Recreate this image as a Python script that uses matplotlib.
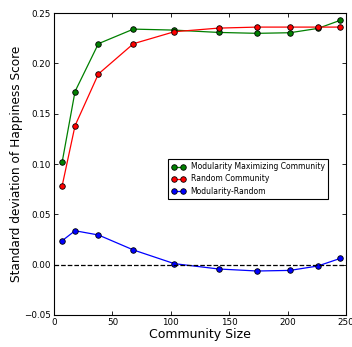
import numpy as np
import matplotlib.pyplot as plt

# community sizes and std of happiness score
sizes = [7, 18, 38, 68, 103, 141, 174, 202, 226, 245]
modularity = [0.102, 0.172, 0.2195, 0.234, 0.233, 0.2307, 0.2298, 0.2304, 0.2347, 0.2427]
random_comm = [0.0784, 0.138, 0.1894, 0.2195, 0.2314, 0.235, 0.236, 0.236, 0.236, 0.236]
diff = [0.0238, 0.0337, 0.0295, 0.0146, 0.001, -0.0043, -0.0063, -0.0057, -0.0013, 0.0062]

fig = plt.figure(figsize=(3.52, 3.47), dpi=100)
ax = fig.add_axes([54/352, 1 - 315/347, 292/352, 302/347])

ax.plot(sizes, modularity, '-o', color='green', markerfacecolor='green', markeredgecolor='black',
        markersize=4, markeredgewidth=0.6, lw=0.9, label='Modularity Maximizing Community')
ax.plot(sizes, random_comm, '-o', color='red', markerfacecolor='red', markeredgecolor='black',
        markersize=4, markeredgewidth=0.6, lw=0.9, label='Random Community')
ax.plot(sizes, diff, '-o', color='blue', markerfacecolor='blue', markeredgecolor='black',
        markersize=4, markeredgewidth=0.6, lw=0.9, label='Modularity-Random')
ax.axhline(0, color='black', ls='--', lw=0.9)

ax.set_xlim(0, 250)
ax.set_ylim(-0.05, 0.25)
ax.set_xticks(np.arange(0, 251, 50))
ax.set_yticks(np.arange(-0.05, 0.251, 0.05))
ax.set_yticklabels(['\u22120.05', '0.00', '0.05', '0.10', '0.15', '0.20', '0.25'])
ax.tick_params(direction='in', top=True, right=True, labelsize=6.3, length=3, width=0.6, pad=2)
for s in ax.spines.values():
    s.set_linewidth(0.8)

ax.set_xlabel('Community Size', fontsize=9, labelpad=1)
ax.set_ylabel('Standard deviation of Happiness Score', fontsize=8.7, labelpad=1)

leg = ax.legend(loc='upper left', bbox_to_anchor=((168 - 54) / 292, (315 - 159) / 302), fontsize=5.5,
                numpoints=2, fancybox=False, framealpha=1, edgecolor='black', borderpad=0.45,
                handlelength=1.8, handletextpad=0.7, labelspacing=0.4, borderaxespad=0)
leg.get_frame().set_linewidth(0.8)

fig.savefig('out.png', dpi=100)
